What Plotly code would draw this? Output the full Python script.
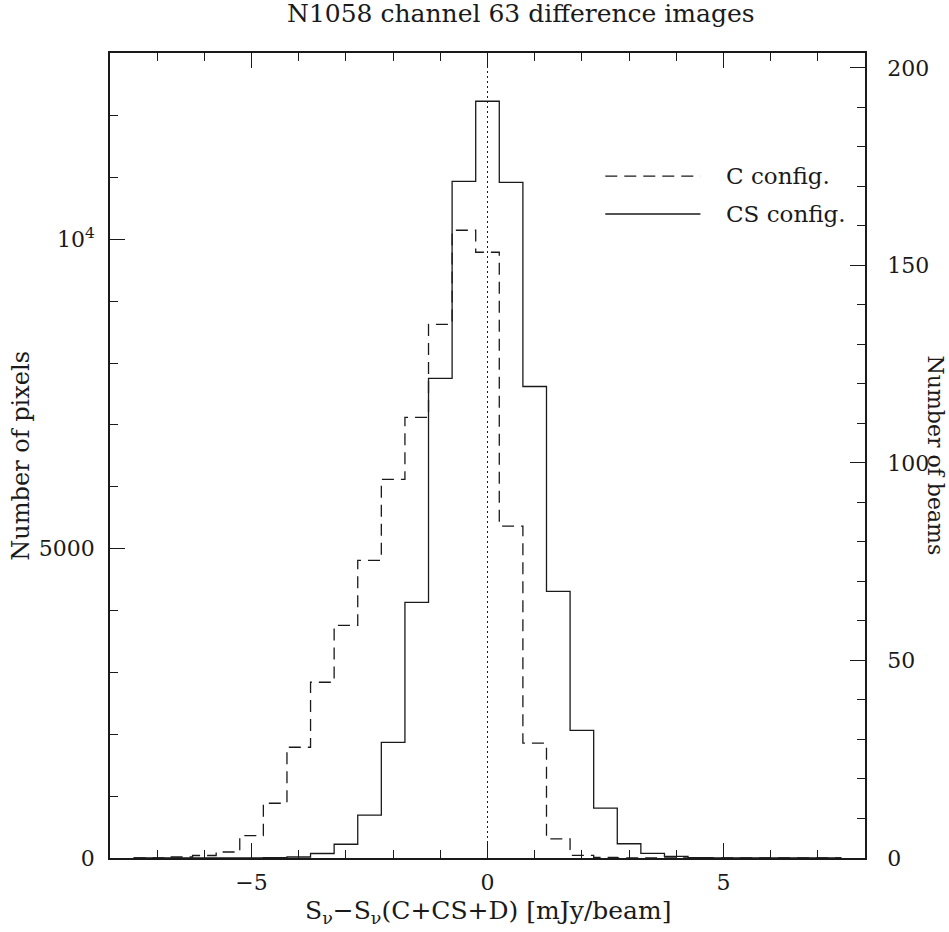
import plotly.graph_objects as go

# bin centres in mJy/beam (bin width 0.5)
bin_centres = [-7.5, -7.0, -6.5, -6.0, -5.5, -5.0, -4.5, -4.0, -3.5, -3.0, -2.5,
               -2.0, -1.5, -1.0, -0.5, 0.0, 0.5, 1.0, 1.5, 2.0, 2.5, 3.0,
               3.5, 4.0, 4.5, 5.0, 5.5, 6.0, 6.5, 7.0, 7.5]

# number of pixels per bin
c_config = [0, 3, 16, 40, 97, 360, 885, 1790, 2840, 3760, 4810,
            6120, 7120, 8625, 10145, 9790, 5365, 1855, 310, 44, 8, 1,
            0, 0, 0, 0, 0, 0, 0, 0, 0]
cs_config = [0, 0, 0, 0, 0, 1, 4, 16, 73, 222, 692,
             1870, 4132, 7750, 10935, 12230, 10920, 7620, 4310, 2064, 806, 230,
             74, 27, 5, 1, 0, 0, 0, 0, 0]

pixels_per_beam = 63.85
y_max = 13010

x_ticks = [-5, 0, 5]
x_ticktext = ["\u22125", "0", "5"]
y_ticks = [0, 5000, 10000]
y_ticktext = ["0", "5000", "10<sup>4</sup>"]
y2_ticks = [0, 50, 100, 150, 200]

FONT = "DejaVu Serif"
INK = "#1a1a1a"

fig = go.Figure()

fig.add_trace(go.Scatter(
    x=bin_centres, y=c_config, mode="lines", line_shape="hvh",
    line=dict(color=INK, width=1.3, dash="12px,7px"),
    showlegend=False, hoverinfo="skip"
))
fig.add_trace(go.Scatter(
    x=bin_centres, y=cs_config, mode="lines", line_shape="hvh",
    line=dict(color=INK, width=1.3),
    showlegend=False, hoverinfo="skip"
))
# carrier for the right-hand "beams" axis
fig.add_trace(go.Scatter(x=[None], y=[None], yaxis="y2", showlegend=False))

# dotted zero line
fig.add_shape(type="line", xref="x", yref="paper", x0=0, x1=0, y0=0, y1=1,
              line=dict(color=INK, width=1, dash="2px,3px"))

# hand-made legend
fig.add_shape(type="line", xref="paper", yref="paper", x0=0.656, x1=0.782,
              y0=0.847, y1=0.847, line=dict(color=INK, width=1.3, dash="12px,7px"))
fig.add_shape(type="line", xref="paper", yref="paper", x0=0.656, x1=0.782,
              y0=0.800, y1=0.800, line=dict(color=INK, width=1.3))
fig.add_annotation(x=0.813, y=0.847, xref="paper", yref="paper", text="C config.",
                   showarrow=False, xanchor="left", yanchor="middle",
                   font=dict(family=FONT, size=23, color=INK))
fig.add_annotation(x=0.813, y=0.800, xref="paper", yref="paper", text="CS config.",
                   showarrow=False, xanchor="left", yanchor="middle",
                   font=dict(family=FONT, size=23, color=INK))

# titles
fig.add_annotation(x=0.544, y=1.049, xref="paper", yref="paper",
                   text="N1058 channel 63 difference images",
                   showarrow=False, xanchor="center", yanchor="middle",
                   font=dict(family=FONT, size=25, color=INK))
fig.add_annotation(x=0.5, y=-0.067, xref="paper", yref="paper",
                   text="S<sub>\u03bd</sub>\u2212S<sub>\u03bd</sub>(C+CS+D) [mJy/beam]",
                   showarrow=False, xanchor="center", yanchor="middle",
                   font=dict(family=FONT, size=25, color=INK))
fig.add_annotation(x=-0.119, y=0.5, xref="paper", yref="paper", text="Number of pixels",
                   textangle=-90, showarrow=False, xanchor="center", yanchor="middle",
                   font=dict(family=FONT, size=24, color=INK))
fig.add_annotation(x=1.094, y=0.5, xref="paper", yref="paper", text="Number of beams",
                   textangle=90, showarrow=False, xanchor="center", yanchor="middle",
                   font=dict(family=FONT, size=22, color=INK))

axis_common = dict(showline=True, linecolor=INK, linewidth=1.5, ticks="inside",
                   ticklen=15, tickwidth=1.2, tickcolor=INK, showgrid=False,
                   zeroline=False, automargin=False,
                   tickfont=dict(family=FONT, size=22, color=INK))

fig.update_layout(
    width=949, height=932,
    paper_bgcolor="white", plot_bgcolor="white",
    margin=dict(l=110, r=84, t=53, b=74, autoexpand=False),
    xaxis=dict(range=[-8, 8], tickvals=x_ticks, ticktext=x_ticktext, mirror="ticks",
               ticklabelstandoff=4,
               minor=dict(dtick=1, tick0=0, ticks="inside", ticklen=8, tickcolor=INK),
               **axis_common),
    yaxis=dict(range=[0, y_max], tickvals=y_ticks, ticktext=y_ticktext,
               ticklabelstandoff=9,
               minor=dict(dtick=1000, tick0=0, ticks="inside", ticklen=8, tickcolor=INK),
               **axis_common),
    yaxis2=dict(range=[0, y_max / pixels_per_beam], tickvals=y2_ticks, overlaying="y",
                side="right", anchor="x", ticklabelstandoff=16,
                minor=dict(dtick=10, tick0=0, ticks="inside", ticklen=8, tickcolor=INK),
                **axis_common),
)

# drop the default page margin so the figure sits at the window origin
fig.write_html("out.html", config={"displayModeBar": False},
               post_script="document.body.style.margin='0';document.body.style.overflow='hidden';")
